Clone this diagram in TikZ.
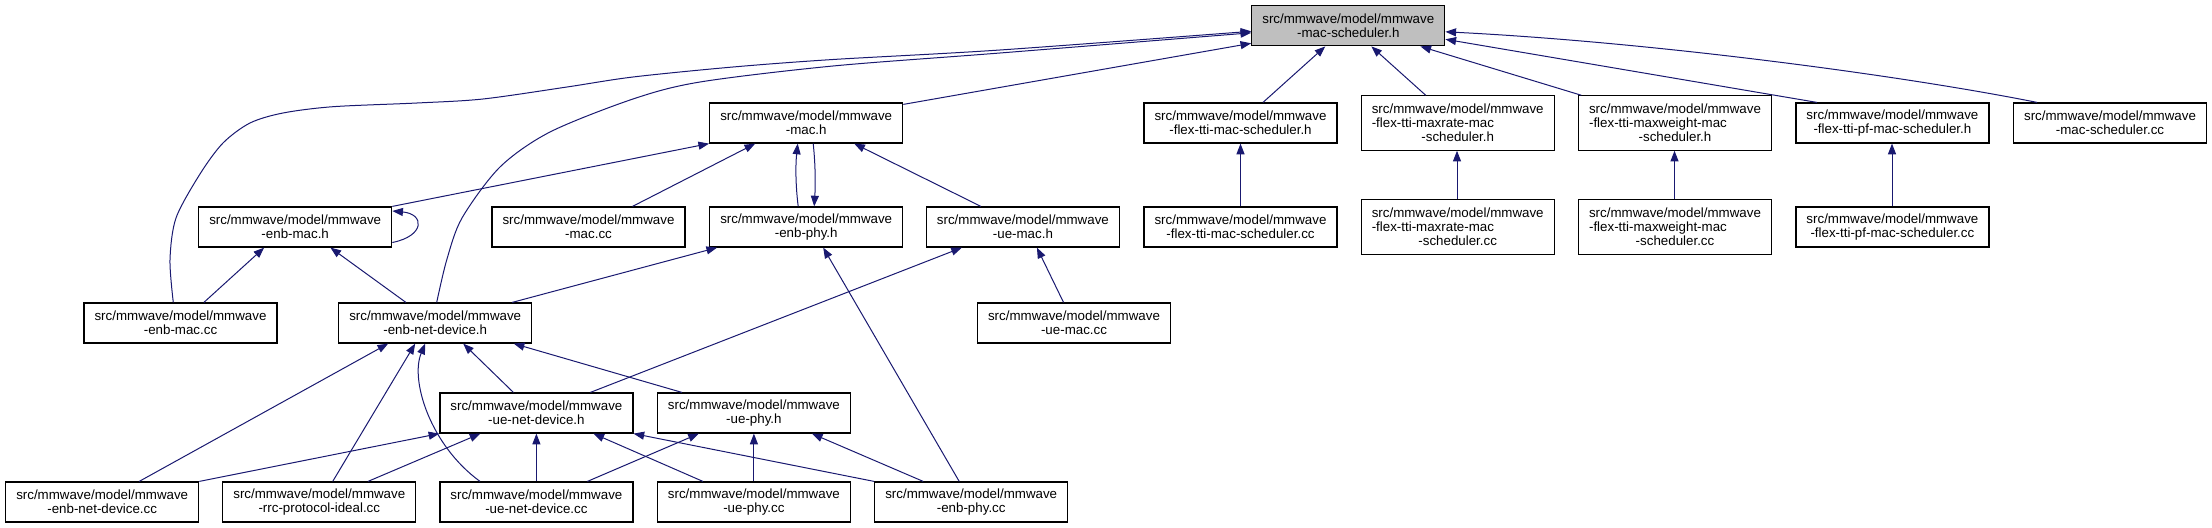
\documentclass[tikz,border=0pt]{standalone}
\usepackage{fontspec}
\setmainfont{Liberation Sans}
\usetikzlibrary{arrows.meta,calc}
\definecolor{edgeblue}{HTML}{191970}
\definecolor{maingray}{HTML}{BFBFBF}
\newcommand\Lline[1]{\rlap{#1}\phantom{src/mmwave/model/mmwave}}
\begin{document}
\begin{tikzpicture}[x=0.75pt,y=-0.75pt,
 fbox/.style={draw=black, line width=0.9pt, minimum width=144.75pt, minimum height=30pt, inner sep=0pt, align=center, font=\fontsize{10}{10.5}\selectfont, fill=white},
 tall/.style={fbox, minimum height=40.7pt},
 rootbox/.style={fbox, fill=maingray},
 edge/.style={draw=edgeblue, line width=0.75pt, -{Triangle[length=8pt,width=6pt]}},
]
\useasboundingbox (0,0) rectangle (2212,528);

\node[rootbox] (main) at (1348.3,25.8) {src/mmwave/model/mmwave\\-mac-scheduler.h};
\node[fbox] (mach) at (806.2,123) {src/mmwave/model/mmwave\\-mac.h};
\node[fbox] (flexh) at (1240.5,123) {src/mmwave/model/mmwave\\-flex-tti-mac-scheduler.h};
\node[tall] (maxrateh) at (1457.7,123) {src/mmwave/model/mmwave\\\Lline{-flex-tti-maxrate-mac}\\-scheduler.h};
\node[tall] (maxweighth) at (1675,123) {src/mmwave/model/mmwave\\\Lline{-flex-tti-maxweight-mac}\\-scheduler.h};
\node[fbox] (pfh) at (1892.4,123) {src/mmwave/model/mmwave\\-flex-tti-pf-mac-scheduler.h};
\node[fbox] (mscc) at (2110,123) {src/mmwave/model/mmwave\\-mac-scheduler.cc};
\node[fbox] (enbmach) at (295.2,227) {src/mmwave/model/mmwave\\-enb-mac.h};
\node[fbox] (maccc) at (588.5,227) {src/mmwave/model/mmwave\\-mac.cc};
\node[fbox] (enbphyh) at (806.2,227) {src/mmwave/model/mmwave\\-enb-phy.h};
\node[fbox] (uemach) at (1022.9,227) {src/mmwave/model/mmwave\\-ue-mac.h};
\node[fbox] (flexcc) at (1240.5,227) {src/mmwave/model/mmwave\\-flex-tti-mac-scheduler.cc};
\node[tall] (maxratecc) at (1457.7,227) {src/mmwave/model/mmwave\\\Lline{-flex-tti-maxrate-mac}\\-scheduler.cc};
\node[tall] (maxweightcc) at (1675,227) {src/mmwave/model/mmwave\\\Lline{-flex-tti-maxweight-mac}\\-scheduler.cc};
\node[fbox] (pfcc) at (1892.4,227) {src/mmwave/model/mmwave\\-flex-tti-pf-mac-scheduler.cc};
\node[fbox] (enbmaccc) at (180.5,323) {src/mmwave/model/mmwave\\-enb-mac.cc};
\node[fbox] (enbndh) at (435.2,323) {src/mmwave/model/mmwave\\-enb-net-device.h};
\node[fbox] (uemaccc) at (1074,323) {src/mmwave/model/mmwave\\-ue-mac.cc};
\node[fbox] (uendh) at (536.4,413) {src/mmwave/model/mmwave\\-ue-net-device.h};
\node[fbox] (uephyh) at (753.9,413) {src/mmwave/model/mmwave\\-ue-phy.h};
\node[fbox] (enbndcc) at (102.2,502) {src/mmwave/model/mmwave\\-enb-net-device.cc};
\node[fbox] (rrc) at (319.3,502) {src/mmwave/model/mmwave\\-rrc-protocol-ideal.cc};
\node[fbox] (uendcc) at (536.4,502) {src/mmwave/model/mmwave\\-ue-net-device.cc};
\node[fbox] (uephycc) at (753.9,502) {src/mmwave/model/mmwave\\-ue-phy.cc};
\node[fbox] (enbphycc) at (971.2,502) {src/mmwave/model/mmwave\\-enb-phy.cc};

% edges into the root
\coordinate (a0) at ($(enbmaccc.north)+(-7.2,0)$);
\coordinate (a1) at ($(main.west)+(0,5.5)$);
\draw[edge] plot[smooth,tension=0.5] coordinates {(a0) (170,260) (176,218) (200,174) (223,143) (250,123) (283,113) (333,106.7) (417,103) (483,99) (567,87) (633,77) (733,67) (833,59.5) (1000,50) (a1)};
\coordinate (b0) at ($(enbndh.north)+(1.5,0)$);
\coordinate (b1) at ($(main.west)+(0,7)$);
\draw[edge] plot[smooth,tension=0.5] coordinates {(b0) (446.7,260) (462,218) (500,167) (550,132) (633,99) (700,82) (833,66) (1000,53) (b1)};
\draw[edge] ($(mach.north east)+(0,2)$) -- ($(main.west)+(0,17.5)$);
\draw[edge] ($(flexh.north)+(22.5,0)$) -- ($(main.south)+(-23,0)$);
\draw[edge] ($(maxrateh.north)+(-32,0)$) -- ($(main.south)+(23,0)$);
\draw[edge] ($(maxweighth.north)+(-93.7,0)$) -- ($(main.south east)+(-25,0)$);
\draw[edge] ($(pfh.north)+(-75.5,0)$) -- ($(main.east)+(0,13.5)$);
\draw[edge] ($(mscc.north)+(-73,0)$) .. controls (1900,75) and (1650,42) .. ($(main.east)+(0,6)$);

% edges into mac.h
\draw[edge] (enbmach.north east) -- (mach.south west);
\draw[edge] ($(maccc.north)+(44,0)$) -- ($(mach.south)+(-51,0)$);
\draw[edge] ($(enbphyh.north)+(-8,0)$) .. controls (795.5,185) and (795.5,165) .. ($(mach.south)+(-8.5,0)$);
\draw[edge] ($(mach.south)+(7,0)$) .. controls (815.5,165) and (815.5,185) .. ($(enbphyh.north)+(8,0)$);
\draw[edge] ($(uemach.north)+(-42,0)$) -- ($(mach.south)+(48,0)$);

% scheduler .cc -> .h
\draw[edge] (flexcc.north) -- (flexh.south);
\draw[edge] ($(maxratecc.north)+(-0.7,0)$) -- ($(maxrateh.south)+(-0.7,0)$);
\draw[edge] ($(maxweightcc.north)+(-0.5,0)$) -- ($(maxweighth.south)+(-0.5,0)$);
\draw[edge] ($(pfcc.north)+(-0.4,0)$) -- ($(pfh.south)+(-0.4,0)$);

% enb-mac.h
\draw[edge] ($(enbmach.east)+(0,15.5)$) .. controls (425,236) and (425,214) .. ($(enbmach.east)+(0,-16)$);
\draw[edge] ($(enbmaccc.north)+(23.4,0)$) -- ($(enbmach.south)+(-31,0)$);
\draw[edge] ($(enbndh.north)+(-29.3,0)$) -- ($(enbmach.south)+(35.2,0)$);

% enb-phy.h
\draw[edge] ($(enbndh.north)+(77,0)$) -- ($(enbphyh.south west)+(8,0)$);
\draw[edge] ($(enbphycc.north)+(-12,0)$) -- ($(enbphyh.south)+(17,0)$);

% ue-mac.h
\draw[edge] ($(uendh.north)+(54,0)$) -- ($(uemach.south)+(-61,0)$);
\draw[edge] ($(uemaccc.north)+(-10.5,0)$) -- ($(uemach.south)+(14,0)$);

% enb-net-device.h
\draw[edge] ($(enbndcc.north)+(37,0)$) -- ($(enbndh.south)+(-47,0)$);
\draw[edge] ($(rrc.north)+(13.4,0)$) -- ($(enbndh.south)+(-20,0)$);
\draw[edge] ($(uendcc.north)+(-56.4,0)$) .. controls (430,445) and (410,380) .. ($(enbndh.south)+(-10,0)$);
\draw[edge] ($(uendh.north)+(-23,0)$) -- ($(enbndh.south)+(28,0)$);
\draw[edge] ($(uephyh.north)+(-72,0)$) -- ($(enbndh.south east)+(-18.6,0)$);

% ue-net-device.h
\draw[edge] (enbndcc.north east) -- (uendh.south west);
\draw[edge] ($(rrc.north)+(48.7,0)$) -- ($(uendh.south)+(-56,0)$);
\draw[edge] (uendcc.north) -- (uendh.south);
\draw[edge] ($(uephycc.north)+(-51,0)$) -- ($(uendh.south)+(57,0)$);
\draw[edge] (enbphycc.north west) -- (uendh.south east);

% ue-phy.h
\draw[edge] ($(uendcc.north)+(51,0)$) -- ($(uephyh.south)+(-55,0)$);
\draw[edge] (uephycc.north) -- (uephyh.south);
\draw[edge] ($(enbphycc.north)+(-48,0)$) -- ($(uephyh.south)+(58,0)$);
\end{tikzpicture}
\end{document}
